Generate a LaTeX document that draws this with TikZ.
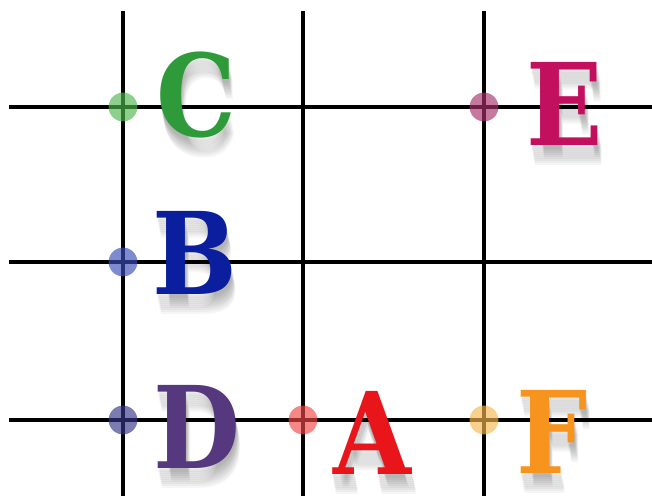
\documentclass[tikz,border=0pt]{standalone}
\usepackage{fontspec}
\newfontfamily\letterfont{DejaVu Serif}
\begin{document}
\begin{tikzpicture}[x=0.5pt,y=-0.5pt,
    letter/.style={inner sep=0pt, font=\letterfont\bfseries\fontsize{57}{57}\selectfont, xscale=0.88, transform shape},
    gridline/.style={line width=1.6pt, black},
    marker/.style={opacity=0.65}]
    \definecolor{colourC}{HTML}{2F9A3A}
    \definecolor{colourE}{HTML}{C2105E}
    \definecolor{colourB}{HTML}{0A1E9E}
    \definecolor{colourD}{HTML}{56387E}
    \definecolor{colourA}{HTML}{E8161B}
    \definecolor{colourF}{HTML}{F7941E}
    \definecolor{dotC}{HTML}{4DB84D}
    \definecolor{dotE}{HTML}{A8306A}
    \definecolor{dotB}{HTML}{3A4EB8}
    \definecolor{dotD}{HTML}{38368A}
    \definecolor{dotA}{HTML}{F04848}
    \definecolor{dotF}{HTML}{F8B850}

    \useasboundingbox (0,0) rectangle (652,496);
    \fill[white] (0,0) rectangle (652,496);

    % Draw grid
    \foreach \x in {123,303,484}
        \draw[gridline] (\x,11) -- (\x,496);
    \foreach \y in {107,262,420}
        \draw[gridline] (9,\y) -- (652,\y);

    % Define points on the grid
    \coordinate (pC) at (123,107);
    \coordinate (pE) at (484,107);
    \coordinate (pB) at (123,262);
    \coordinate (pD) at (123,420);
    \coordinate (pA) at (303,420);
    \coordinate (pF) at (484,420);

    % Draw points
    \foreach \name in {C,E,B,D,A,F}
        \fill[marker, dot\name] (p\name) circle (7.2pt);

    % Draw letters with their shadows
    \foreach \name/\x/\y in {C/196/95,E/565/104,B/195/253,D/197/427,A/372/433,F/552/432}
    {
        \foreach \d in {4,6,...,20}
            \node[letter, text=black, opacity=0.035] (sh\name\d) at (\x+0.2*\d,\y+\d) {\name};
        \node[letter, text=colour\name] (\name) at (\x,\y) {\name};
    }

\end{tikzpicture}
\end{document}
